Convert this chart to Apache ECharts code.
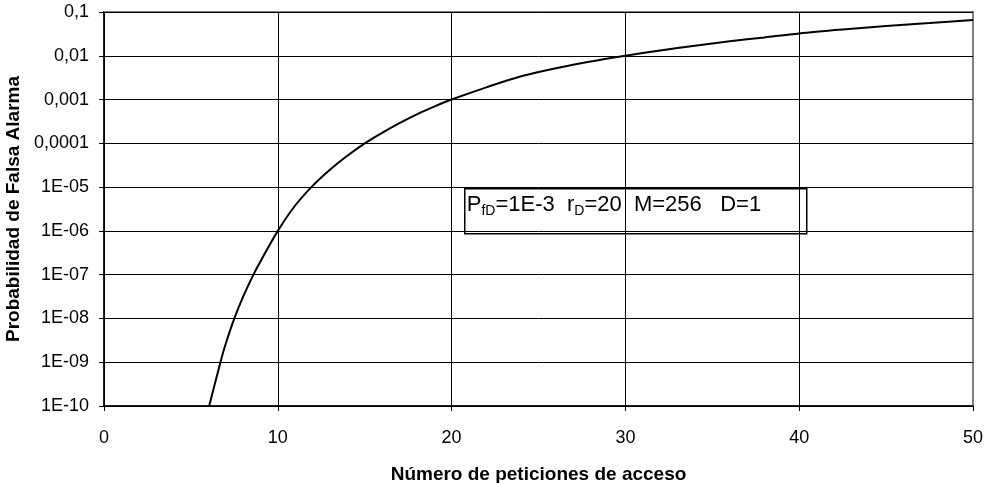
<!DOCTYPE html>
<html>
<head>
<meta charset="utf-8">
<script src="https://cdn.jsdelivr.net/npm/echarts@6/dist/echarts.min.js"></script>
<style>
  html, body { margin: 0; padding: 0; background: #fff; }
  #chart { width: 986px; height: 483px; }
</style>
</head>
<body>
<div id="chart"></div>
<script>
// Número de peticiones de acceso (x) and false-alarm probability (y)
const requests = [6.05, 6.7, 7, 7.5, 8, 8.6, 9, 10, 11, 12, 13, 14, 15, 16, 17, 18, 19, 20,
  22, 24, 26, 28, 30, 32, 34, 36, 38, 40, 42.5, 45, 47.5, 50];
const falseAlarm = [1e-10, 1e-9, 2.6e-9, 1e-8, 3.1e-8, 1e-7, 2e-7, 1e-6, 3.8e-6, 1.07e-5,
  2.5e-5, 5.2e-5, 1e-4, 1.74e-4, 2.9e-4, 4.6e-4, 6.9e-4, 1e-3,
  1.9e-3, 3.4e-3, 5.2e-3, 7.4e-3, 0.01, 0.0132, 0.017, 0.0214, 0.0263, 0.0324,
  0.0398, 0.0479, 0.0562, 0.066];

// Decade labels, from 1E-10 up to 0,1
const yTickLabels = ['1E-10', '1E-09', '1E-08', '1E-07', '1E-06', '1E-05',
  '0,0001', '0,001', '0,01', '0,1'];
const xTicks = [0, 10, 20, 30, 40, 50];

const FONT = '"Liberation Sans", Arial, sans-serif';
const chart = echarts.init(document.getElementById('chart'), null, { renderer: 'canvas' });

chart.setOption({
  animation: false,
  backgroundColor: '#fff',
  grid: {
    left: 104, right: 13, top: 12, bottom: 77,
    outerBoundsMode: 'none', containLabel: false,
    show: true, borderColor: '#808080', borderWidth: 2, backgroundColor: '#fff'
  },
  xAxis: {
    type: 'value',
    min: xTicks[0], max: xTicks[xTicks.length - 1], interval: 10,
    name: 'Número de peticiones de acceso',
    nameLocation: 'middle', nameGap: 59,
    nameTextStyle: { fontFamily: FONT, fontWeight: 'bold', fontSize: 19, color: '#000' },
    axisLine: { show: true, onZero: false, lineStyle: { color: '#000', width: 1.5 } },
    axisTick: { show: true, inside: false, length: 5, lineStyle: { color: '#000', width: 1 } },
    axisLabel: { fontFamily: FONT, fontSize: 18, color: '#000', margin: 23 },
    splitLine: { show: true, showMaxLine: false, lineStyle: { color: '#000', width: 1 } }
  },
  yAxis: {
    type: 'log', logBase: 10,
    min: 1e-10, max: 0.1, interval: 1,
    name: 'Probabilidad de Falsa Alarma',
    nameLocation: 'middle', nameGap: 77, nameRotate: 90,
    nameTextStyle: { fontFamily: FONT, fontWeight: 'bold', fontSize: 19, color: '#000' },
    axisLine: { show: true, lineStyle: { color: '#000', width: 1.5 } },
    axisTick: { show: true, inside: false, length: 5, lineStyle: { color: '#000', width: 1 } },
    axisLabel: {
      fontFamily: FONT, fontSize: 18, color: '#000', margin: 15,
      padding: [4, 0, 0, 0],
      formatter: function (v) {
        const e = Math.round(Math.log10(v));
        return yTickLabels[e + 10];
      }
    },
    splitLine: { show: true, showMaxLine: false, lineStyle: { color: '#000', width: 1 } }
  },
  series: [{
    type: 'line',
    data: requests.map((x, i) => [x, falseAlarm[i]]),
    smooth: 0.3,
    showSymbol: false,
    symbol: 'none',
    lineStyle: { color: '#000', width: 2 },
    clip: true
  }],
  graphic: [{
    type: 'group',
    left: 464, top: 188,
    children: [{
      type: 'rect',
      shape: { x: 0, y: 0, width: 342, height: 45 },
      style: { fill: '#fff', stroke: '#000', lineWidth: 1.5 }
    }, {
      type: 'text',
      x: 2, y: 3,
      style: {
        text: '{m|P}{s|fD}{m|=1E-3  r}{s|D}{m|=20  M=256   D=1}',
        rich: {
          m: { fontFamily: FONT, fontSize: 22, color: '#000', lineHeight: 26 },
          s: { fontFamily: FONT, fontSize: 14, color: '#000', lineHeight: 14, verticalAlign: 'bottom' }
        }
      }
    }]
  }]
});
</script>
</body>
</html>
